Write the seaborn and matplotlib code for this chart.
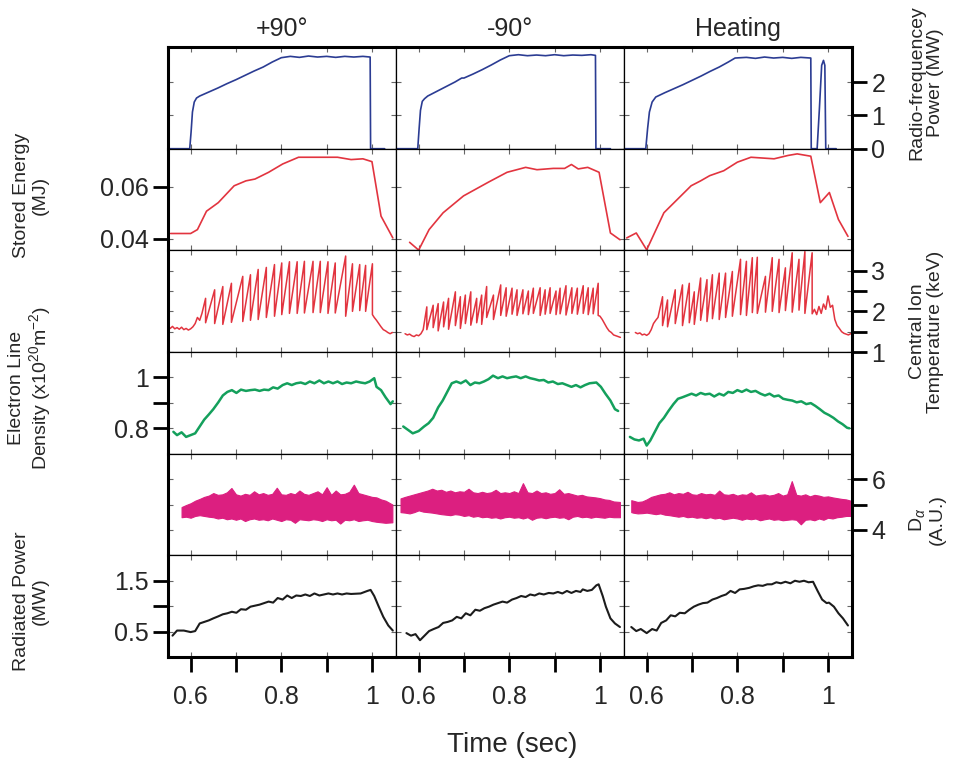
import matplotlib
matplotlib.use('Agg')
import matplotlib.pyplot as plt
import seaborn as sns

sns.set_theme(style='ticks')
plt.rcParams['font.family'] = ['Liberation Sans', 'DejaVu Sans']
plt.rcParams['mathtext.fontset'] = 'custom'
plt.rcParams['mathtext.rm'] = 'Liberation Sans'
plt.rcParams['mathtext.it'] = 'Liberation Sans:italic'
plt.rcParams['mathtext.bf'] = 'Liberation Sans:bold'

cases = ['+90°', '-90°', 'Heating']

# ── row 1 : radio-frequency power (MW) ─────────────────────────────────────
rf_t_p90 = [0.550, 0.598, 0.601, 0.604, 0.608, 0.613, 0.620, 0.640, 0.660, 0.680, 0.700, 0.720,
            0.740, 0.760, 0.780, 0.800, 0.820, 0.840, 0.860, 0.880, 0.900, 0.920, 0.940, 0.960,
            0.980, 0.996, 0.997, 1.028]
rf_p90 = [0.0, 0.0, 0.5, 1.1, 1.40, 1.52, 1.58, 1.70, 1.82, 1.95, 2.07, 2.20,
          2.33, 2.45, 2.60, 2.73, 2.77, 2.74, 2.78, 2.75, 2.77, 2.74, 2.77, 2.75,
          2.77, 2.75, 0.0, 0.0]
rf_t_m90 = [0.552, 0.598, 0.601, 0.604, 0.608, 0.613, 0.620, 0.640, 0.660, 0.680, 0.695, 0.700,
            0.720, 0.740, 0.760, 0.780, 0.800, 0.820, 0.840, 0.860, 0.880, 0.900, 0.920, 0.940,
            0.960, 0.980, 0.990, 0.991, 1.023]
rf_m90 = [0.0, 0.0, 0.6, 1.15, 1.42, 1.50, 1.58, 1.72, 1.86, 2.00, 2.12, 2.12,
          2.24, 2.37, 2.51, 2.66, 2.79, 2.82, 2.79, 2.81, 2.79, 2.82, 2.79, 2.81,
          2.80, 2.82, 2.80, 0.0, 0.0]
rf_t_heat = [0.550, 0.598, 0.602, 0.606, 0.612, 0.620, 0.640, 0.660, 0.680, 0.700, 0.720, 0.740,
             0.760, 0.780, 0.795, 0.820, 0.840, 0.860, 0.880, 0.900, 0.920, 0.940, 0.962, 0.963,
             0.976, 0.981, 0.986, 0.990, 0.993, 0.995, 1.018]
rf_heat = [0.0, 0.0, 0.6, 1.10, 1.40, 1.55, 1.68, 1.80, 1.92, 2.05, 2.18, 2.32,
           2.45, 2.60, 2.72, 2.74, 2.71, 2.75, 2.72, 2.74, 2.71, 2.74, 2.72, 0.0,
           0.0, 1.20, 2.50, 2.65, 2.50, 0.0, 0.0]

# ── row 2 : stored energy (MJ) ─────────────────────────────────────────────
we_t_p90 = [0.556, 0.600, 0.615, 0.635, 0.661, 0.696, 0.722, 0.742, 0.772, 0.803, 0.838,
            0.924, 0.954, 0.980, 1.000, 1.020, 1.046]
we_p90 = [0.0420, 0.0420, 0.0435, 0.0506, 0.0539, 0.0604, 0.0623, 0.0630, 0.0656, 0.0688, 0.0714,
          0.0714, 0.0705, 0.0708, 0.0697, 0.0487, 0.0403]
we_t_m90 = [0.580, 0.600, 0.623, 0.654, 0.699, 0.755, 0.795, 0.836, 0.861, 0.897, 0.922,
            0.937, 0.952, 0.973, 0.998, 1.023, 1.044]
we_m90 = [0.0386, 0.0356, 0.0435, 0.0500, 0.0565, 0.0619, 0.0656, 0.0675, 0.0666, 0.0671, 0.0671,
          0.0686, 0.0669, 0.0675, 0.0656, 0.0422, 0.0396]
we_t_heat = [0.556, 0.577, 0.600, 0.638, 0.668, 0.698, 0.719, 0.739, 0.770, 0.800, 0.830,
             0.881, 0.912, 0.932, 0.962, 0.983, 1.003, 1.023, 1.044]
we_heat = [0.0403, 0.0422, 0.0357, 0.0500, 0.0552, 0.0604, 0.0623, 0.0643, 0.0662, 0.0695, 0.0714,
           0.0708, 0.0721, 0.0727, 0.0718, 0.0539, 0.0578, 0.0474, 0.0409]

# ── row 3 : central ion temperature (keV), sawtooth crashes ────────────────
ti_base_t_p90 = [0.550, 0.555, 0.560, 0.565, 0.570, 0.575, 0.580, 0.585, 0.590, 0.595, 0.600,
                 0.605, 0.610, 0.615, 0.620, 0.625]
ti_base_p90 = [1.62, 1.58, 1.63, 1.57, 1.60, 1.56, 1.61, 1.55, 1.58, 1.54, 1.57,
               1.62, 1.70, 1.85, 1.78, 1.95]
ti_peak_t_p90 = [0.633, 0.653, 0.671, 0.690, 0.715, 0.732, 0.749, 0.767, 0.785, 0.801, 0.818,
                 0.835, 0.851, 0.870, 0.886, 0.903, 0.919, 0.942, 0.957, 0.973, 0.986, 1.001]
ti_peak_p90 = [2.32, 2.53, 2.61, 2.69, 2.86, 2.90, 3.03, 3.08, 3.15, 3.19, 3.22,
               3.22, 3.23, 3.23, 3.23, 3.22, 3.19, 3.36, 3.17, 3.15, 3.13, 3.17]
ti_trough_p90 = [1.72, 1.70, 1.68, 1.73, 1.75, 1.78, 1.80, 1.85, 1.88, 1.92, 1.95,
                 1.95, 1.96, 1.97, 1.97, 1.95, 1.96, 1.88, 2.00, 2.02, 2.00, 1.92]
ti_end_t_p90 = [1.005, 1.010, 1.015, 1.020, 1.025, 1.030, 1.035, 1.040, 1.045]
ti_end_p90 = [1.85, 1.78, 1.70, 1.62, 1.55, 1.52, 1.48, 1.45, 1.48]

ti_base_t_m90 = [0.570, 0.575, 0.580, 0.585, 0.590, 0.595, 0.600, 0.605, 0.610]
ti_base_m90 = [1.45, 1.42, 1.44, 1.40, 1.38, 1.42, 1.40, 1.45, 1.55]
ti_peak_t_m90 = [0.618, 0.632, 0.643, 0.655, 0.666, 0.681, 0.692, 0.703, 0.715, 0.728, 0.739,
                 0.750, 0.765, 0.781, 0.793, 0.806, 0.817, 0.830, 0.842, 0.853, 0.868, 0.879,
                 0.890, 0.903, 0.912, 0.925, 0.938, 0.950, 0.963, 0.974, 0.985, 0.996]
ti_peak_m90 = [2.11, 2.15, 2.19, 2.23, 2.32, 2.48, 2.36, 2.40, 2.48, 2.32, 2.40,
               2.61, 2.40, 2.65, 2.58, 2.57, 2.53, 2.53, 2.50, 2.57, 2.58, 2.53,
               2.58, 2.50, 2.57, 2.63, 2.58, 2.57, 2.63, 2.58, 2.57, 2.69]
ti_trough_m90 = [1.55, 1.60, 1.52, 1.62, 1.56, 1.65, 1.58, 1.70, 1.66, 1.72, 1.68,
                 1.85, 1.80, 1.90, 1.88, 1.93, 1.90, 1.94, 1.92, 1.95, 1.90, 1.93,
                 1.95, 1.92, 1.94, 1.91, 1.95, 1.93, 1.95, 1.92, 1.94, 1.90]
ti_end_t_m90 = [1.000, 1.005, 1.010, 1.015, 1.020, 1.025, 1.030, 1.035, 1.040, 1.045]
ti_end_m90 = [1.88, 1.80, 1.70, 1.60, 1.52, 1.48, 1.42, 1.40, 1.38, 1.36]

ti_base_t_heat = [0.575, 0.580, 0.585, 0.590, 0.595, 0.600, 0.605, 0.610, 0.615, 0.620, 0.625]
ti_base_heat = [1.48, 1.45, 1.47, 1.42, 1.44, 1.41, 1.45, 1.55, 1.70, 1.78, 1.85]
ti_peak_t_heat = [0.635, 0.646, 0.663, 0.679, 0.694, 0.705, 0.719, 0.733, 0.745, 0.760, 0.774,
                  0.789, 0.807, 0.820, 0.833, 0.844, 0.862, 0.877, 0.892, 0.906, 0.921, 0.936,
                  0.949, 0.965]
ti_peak_heat = [2.36, 2.28, 2.53, 2.65, 2.69, 2.48, 2.82, 2.78, 2.90, 2.94, 2.94,
                2.98, 3.28, 3.23, 3.32, 3.33, 2.86, 3.32, 3.28, 3.07, 3.44, 3.28,
                3.47, 3.44]
ti_trough_heat = [1.65, 1.62, 1.70, 1.65, 1.72, 1.68, 1.78, 1.75, 1.82, 1.80, 1.85,
                  1.88, 1.92, 1.90, 1.97, 1.95, 1.98, 2.00, 1.97, 2.02, 1.98, 2.03,
                  1.95, 1.94]
ti_end_t_heat = [0.970, 0.975, 0.980, 0.985, 0.990, 0.995, 1.000, 1.005, 1.010, 1.015, 1.020,
                 1.025, 1.030, 1.035, 1.040, 1.045, 1.050]
ti_end_heat = [2.05, 1.92, 2.12, 1.95, 2.18, 2.05, 2.38, 2.10, 2.15, 1.80, 1.65,
               1.58, 1.50, 1.46, 1.44, 1.42, 1.45]

# ── row 4 : electron line density (1e20 m^-2) ─────────────────────────────
ne_t_p90 = [0.562, 0.570, 0.580, 0.590, 0.600, 0.610, 0.620, 0.630, 0.640, 0.650, 0.661, 0.671,
            0.681, 0.691, 0.701, 0.711, 0.722, 0.732, 0.742, 0.752, 0.762, 0.772, 0.782, 0.792,
            0.803, 0.813, 0.823, 0.833, 0.843, 0.853, 0.863, 0.873, 0.884, 0.894, 0.904, 0.914,
            0.924, 0.934, 0.944, 0.954, 0.965, 0.975, 0.985, 0.995, 1.005, 1.010, 1.020, 1.030,
            1.041, 1.046]
ne_p90 = [0.786, 0.773, 0.784, 0.766, 0.773, 0.780, 0.807, 0.834, 0.854, 0.875, 0.902, 0.929,
          0.943, 0.950, 0.939, 0.952, 0.947, 0.950, 0.952, 0.947, 0.952, 0.950, 0.961, 0.956,
          0.970, 0.977, 0.970, 0.977, 0.980, 0.974, 0.984, 0.977, 0.988, 0.977, 0.984, 0.977,
          0.984, 0.974, 0.980, 0.977, 0.984, 0.980, 0.977, 0.984, 0.997, 0.963, 0.950, 0.922,
          0.895, 0.906]
ne_t_m90 = [0.566, 0.577, 0.587, 0.600, 0.612, 0.622, 0.632, 0.643, 0.653, 0.663, 0.673, 0.683,
            0.693, 0.704, 0.714, 0.724, 0.734, 0.744, 0.754, 0.764, 0.775, 0.785, 0.795, 0.805,
            0.815, 0.825, 0.836, 0.846, 0.856, 0.866, 0.876, 0.886, 0.896, 0.907, 0.917, 0.927,
            0.937, 0.947, 0.957, 0.967, 0.977, 0.992, 1.002, 1.012, 1.023, 1.033, 1.040]
ne_m90 = [0.807, 0.793, 0.780, 0.789, 0.807, 0.820, 0.841, 0.882, 0.909, 0.943, 0.977, 0.984,
          0.977, 0.988, 0.970, 0.980, 0.977, 0.984, 0.993, 1.007, 0.997, 1.004, 0.997, 1.001,
          1.004, 0.997, 1.004, 0.997, 0.993, 0.988, 0.990, 0.980, 0.984, 0.974, 0.977, 0.970,
          0.963, 0.970, 0.961, 0.970, 0.977, 0.980, 0.963, 0.936, 0.909, 0.875, 0.868]
ne_t_heat = [0.563, 0.573, 0.583, 0.593, 0.600, 0.608, 0.618, 0.628, 0.638, 0.648, 0.659, 0.669,
             0.679, 0.689, 0.699, 0.709, 0.719, 0.729, 0.739, 0.749, 0.760, 0.770, 0.780, 0.790,
             0.800, 0.810, 0.820, 0.830, 0.840, 0.851, 0.861, 0.871, 0.881, 0.891, 0.901, 0.911,
             0.921, 0.931, 0.941, 0.952, 0.962, 0.972, 0.982, 0.992, 1.002, 1.012, 1.022, 1.032,
             1.042, 1.047]
ne_heat = [0.766, 0.756, 0.752, 0.759, 0.732, 0.752, 0.786, 0.820, 0.841, 0.868, 0.895, 0.916,
           0.922, 0.929, 0.936, 0.929, 0.939, 0.933, 0.936, 0.925, 0.936, 0.929, 0.943, 0.939,
           0.950, 0.943, 0.952, 0.943, 0.947, 0.936, 0.929, 0.936, 0.925, 0.929, 0.916, 0.912,
           0.909, 0.902, 0.906, 0.895, 0.899, 0.888, 0.875, 0.861, 0.852, 0.841, 0.827, 0.816,
           0.802, 0.800]

# ── row 5 : D-alpha (A.U.), upper / lower envelope of the noisy trace ──────
da_t_p90 = [0.58, 0.59, 0.60, 0.61, 0.62, 0.63, 0.64, 0.65, 0.66, 0.67, 0.68, 0.69,
            0.70, 0.71, 0.72, 0.73, 0.74, 0.75, 0.76, 0.77, 0.78, 0.79, 0.80, 0.81,
            0.82, 0.83, 0.84, 0.85, 0.86, 0.87, 0.88, 0.89, 0.90, 0.91, 0.92, 0.93,
            0.94, 0.95, 0.96, 0.97, 0.98, 0.99, 1.00, 1.01, 1.02, 1.03, 1.045]
da_hi_p90 = [4.90, 4.98, 5.05, 5.15, 5.22, 5.30, 5.35, 5.45, 5.38, 5.40, 5.48, 5.65,
             5.40, 5.35, 5.42, 5.38, 5.52, 5.40, 5.45, 5.38, 5.42, 5.66, 5.40, 5.38,
             5.45, 5.40, 5.55, 5.42, 5.38, 5.45, 5.52, 5.40, 5.68, 5.38, 5.55, 5.40,
             5.42, 5.50, 5.78, 5.45, 5.40, 5.35, 5.30, 5.28, 5.20, 5.15, 5.00]
da_lo_p90 = [4.50, 4.52, 4.48, 4.55, 4.58, 4.55, 4.52, 4.50, 4.45, 4.48, 4.42, 4.45,
             4.40, 4.45, 4.35, 4.42, 4.45, 4.40, 4.42, 4.38, 4.45, 4.40, 4.35, 4.42,
             4.40, 4.28, 4.42, 4.40, 4.38, 4.42, 4.40, 4.35, 4.42, 4.38, 4.40, 4.25,
             4.40, 4.38, 4.42, 4.35, 4.38, 4.40, 4.35, 4.32, 4.30, 4.28, 4.30]
da_t_m90 = [0.56, 0.57, 0.58, 0.59, 0.60, 0.61, 0.62, 0.63, 0.64, 0.65, 0.66, 0.67,
            0.68, 0.69, 0.70, 0.71, 0.72, 0.73, 0.74, 0.75, 0.76, 0.77, 0.78, 0.79,
            0.80, 0.81, 0.82, 0.83, 0.84, 0.85, 0.86, 0.87, 0.88, 0.89, 0.90, 0.91,
            0.92, 0.93, 0.94, 0.95, 0.96, 0.97, 0.98, 0.99, 1.00, 1.01, 1.02, 1.03,
            1.044]
da_hi_m90 = [5.24, 5.30, 5.35, 5.40, 5.45, 5.50, 5.55, 5.62, 5.55, 5.58, 5.50, 5.55,
             5.48, 5.52, 5.50, 5.62, 5.48, 5.45, 5.50, 5.45, 5.48, 5.58, 5.45, 5.48,
             5.45, 5.52, 5.45, 5.84, 5.48, 5.45, 5.55, 5.45, 5.48, 5.42, 5.45, 5.60,
             5.42, 5.45, 5.40, 5.35, 5.38, 5.32, 5.30, 5.28, 5.25, 5.20, 5.18, 5.12,
             5.10]
da_lo_m90 = [4.70, 4.68, 4.65, 4.70, 4.77, 4.72, 4.70, 4.68, 4.65, 4.62, 4.60, 4.58,
             4.62, 4.60, 4.55, 4.58, 4.52, 4.55, 4.50, 4.52, 4.48, 4.50, 4.45, 4.50,
             4.52, 4.48, 4.50, 4.45, 4.50, 4.40, 4.48, 4.50, 4.46, 4.50, 4.52, 4.48,
             4.50, 4.42, 4.52, 4.55, 4.50, 4.52, 4.48, 4.52, 4.50, 4.48, 4.52, 4.50,
             4.50]
da_t_heat = [0.566, 0.57, 0.58, 0.59, 0.60, 0.61, 0.62, 0.63, 0.64, 0.65, 0.66, 0.67,
             0.68, 0.69, 0.70, 0.71, 0.72, 0.73, 0.74, 0.75, 0.76, 0.77, 0.78, 0.79,
             0.80, 0.81, 0.82, 0.83, 0.84, 0.85, 0.86, 0.87, 0.88, 0.89, 0.90, 0.91,
             0.92, 0.93, 0.94, 0.95, 0.96, 0.97, 0.98, 0.99, 1.00, 1.01, 1.02, 1.03,
             1.04, 1.050]
da_hi_heat = [5.17, 5.15, 5.10, 5.12, 5.20, 5.30, 5.35, 5.40, 5.42, 5.48, 5.40, 5.45,
              5.42, 5.50, 5.40, 5.38, 5.45, 5.40, 5.42, 5.38, 5.55, 5.40, 5.38, 5.42,
              5.35, 5.40, 5.38, 5.48, 5.35, 5.38, 5.40, 5.35, 5.38, 5.45, 5.35, 5.40,
              5.92, 5.38, 5.35, 5.40, 5.32, 5.38, 5.35, 5.30, 5.32, 5.28, 5.25, 5.22,
              5.20, 5.15]
da_lo_heat = [4.70, 4.68, 4.65, 4.66, 4.68, 4.65, 4.62, 4.65, 4.60, 4.58, 4.55, 4.52,
              4.55, 4.50, 4.52, 4.48, 4.50, 4.46, 4.50, 4.45, 4.48, 4.42, 4.45, 4.48,
              4.45, 4.40, 4.45, 4.42, 4.45, 4.38, 4.42, 4.45, 4.40, 4.42, 4.38, 4.40,
              4.42, 4.40, 4.22, 4.40, 4.42, 4.38, 4.45, 4.40, 4.48, 4.45, 4.50, 4.52,
              4.55, 4.55]

# ── row 6 : radiated power (MW) ────────────────────────────────────────────
pr_t_p90 = [0.560, 0.570, 0.585, 0.600, 0.610, 0.620, 0.630, 0.640, 0.650, 0.661, 0.671, 0.681,
            0.691, 0.701, 0.711, 0.722, 0.732, 0.742, 0.752, 0.762, 0.772, 0.782, 0.792, 0.803,
            0.813, 0.823, 0.833, 0.843, 0.853, 0.863, 0.873, 0.884, 0.894, 0.904, 0.914, 0.924,
            0.934, 0.944, 0.954, 0.975, 0.990, 0.997, 1.005, 1.015, 1.025, 1.036, 1.046]
pr_p90 = [0.42, 0.52, 0.52, 0.49, 0.51, 0.66, 0.69, 0.72, 0.76, 0.80, 0.84, 0.86,
          0.89, 0.87, 0.94, 0.93, 0.99, 1.01, 1.03, 1.06, 1.09, 1.07, 1.16, 1.13,
          1.21, 1.16, 1.21, 1.20, 1.23, 1.20, 1.25, 1.21, 1.23, 1.25, 1.23, 1.25,
          1.23, 1.25, 1.24, 1.25, 1.30, 1.32, 1.20, 0.99, 0.79, 0.62, 0.52]
pr_t_m90 = [0.573, 0.583, 0.593, 0.603, 0.613, 0.623, 0.633, 0.644, 0.654, 0.664, 0.674, 0.684,
            0.694, 0.704, 0.714, 0.725, 0.735, 0.745, 0.755, 0.765, 0.775, 0.785, 0.795, 0.806,
            0.816, 0.826, 0.836, 0.846, 0.856, 0.866, 0.876, 0.887, 0.897, 0.907, 0.917, 0.927,
            0.937, 0.947, 0.957, 0.962, 0.972, 0.982, 0.992, 0.997, 1.006, 1.013, 1.023, 1.033,
            1.044]
pr_m90 = [0.47, 0.42, 0.45, 0.33, 0.42, 0.51, 0.55, 0.59, 0.67, 0.69, 0.72, 0.79,
          0.76, 0.86, 0.82, 0.93, 0.91, 0.96, 0.99, 1.03, 1.06, 1.09, 1.07, 1.13,
          1.16, 1.20, 1.18, 1.23, 1.21, 1.25, 1.23, 1.26, 1.25, 1.28, 1.25, 1.30,
          1.26, 1.30, 1.28, 1.33, 1.30, 1.32, 1.41, 1.43, 1.20, 0.99, 0.76, 0.66,
          0.59]
pr_t_heat = [0.566, 0.577, 0.587, 0.600, 0.612, 0.622, 0.632, 0.643, 0.653, 0.663, 0.673, 0.684,
             0.694, 0.704, 0.714, 0.724, 0.734, 0.745, 0.755, 0.765, 0.775, 0.785, 0.795, 0.805,
             0.815, 0.826, 0.836, 0.846, 0.856, 0.866, 0.876, 0.886, 0.896, 0.906, 0.917, 0.927,
             0.937, 0.947, 0.957, 0.967, 0.977, 0.987, 0.997, 1.002, 1.013, 1.023, 1.033, 1.044]
pr_heat = [0.59, 0.51, 0.55, 0.47, 0.55, 0.52, 0.67, 0.72, 0.82, 0.80, 0.87, 0.86,
           0.93, 0.99, 1.03, 1.06, 1.07, 1.13, 1.16, 1.20, 1.23, 1.30, 1.26, 1.33,
           1.34, 1.36, 1.39, 1.41, 1.40, 1.43, 1.43, 1.47, 1.45, 1.48, 1.45, 1.50,
           1.48, 1.50, 1.47, 1.48, 1.30, 1.13, 1.06, 1.07, 0.99, 0.86, 0.76, 0.62]

# ── axis settings per row ─────────────────────────────────────────────────
x_ticks = [0.6, 0.7, 0.8, 0.9, 1.0]
x_ticklabels = ['0.6', '', '0.8', '', '1']
row_ylims = [(0, 3.05), (0.0355, 0.0747), (1.0, 3.5), (0.7, 1.1), (3.0, 7.0), (0.0, 2.0)]
row_yticks = [[0, 1, 2], [0.04, 0.06], [1, 1.5, 2, 2.5, 3], [0.8, 0.9, 1.0], [4, 5, 6],
              [0.5, 1.0, 1.5]]
row_yticklabels = [['0', '1', '2'], ['0.04', '0.06'], ['1', '', '2', '', '3'],
                   ['0.8', '', '1'], ['4', '', '6'], ['0.5', '', '1.5']]
row_side = ['right', 'left', 'right', 'left', 'right', 'left']
row_labels = ['Radio-frequencey\nPower (MW)', 'Stored Energy\n(MJ)',
              'Central Ion\nTemperature (keV)',
              'Electron Line\nDensity (x10$^{20}$m$^{-2}$)',
              'D$_{\\alpha}$\n(A.U.)', 'Radiated Power\n(MW)']
row_label_y = [0.892, 0.745, 0.567, 0.494, 0.322, 0.215]

c_blue, c_red, c_green, c_mag, c_black = '#2b3c93', '#e2343f', '#14a05c', '#dc1f80', '#1c1c1c'


def sawtooth(base_t, base_v, pk_t, pk_v, tr_v, end_t, end_v):
    # rise to each peak, then the crash down to the trough at the same time
    t, v = list(base_t), list(base_v)
    for a, b, c in zip(pk_t, pk_v, tr_v):
        t += [a, a]
        v += [b, c]
    return t + list(end_t), v + list(end_v)


rf = [(rf_t_p90, rf_p90), (rf_t_m90, rf_m90), (rf_t_heat, rf_heat)]
we = [(we_t_p90, we_p90), (we_t_m90, we_m90), (we_t_heat, we_heat)]
ti = [sawtooth(ti_base_t_p90, ti_base_p90, ti_peak_t_p90, ti_peak_p90, ti_trough_p90,
               ti_end_t_p90, ti_end_p90),
      sawtooth(ti_base_t_m90, ti_base_m90, ti_peak_t_m90, ti_peak_m90, ti_trough_m90,
               ti_end_t_m90, ti_end_m90),
      sawtooth(ti_base_t_heat, ti_base_heat, ti_peak_t_heat, ti_peak_heat, ti_trough_heat,
               ti_end_t_heat, ti_end_heat)]
ne = [(ne_t_p90, ne_p90), (ne_t_m90, ne_m90), (ne_t_heat, ne_heat)]
da = [(da_t_p90, da_lo_p90, da_hi_p90), (da_t_m90, da_lo_m90, da_hi_m90),
      (da_t_heat, da_lo_heat, da_hi_heat)]
pr = [(pr_t_p90, pr_p90), (pr_t_m90, pr_m90), (pr_t_heat, pr_heat)]

fig, axes = plt.subplots(6, 3, figsize=(9.62, 7.66), dpi=100, sharex=True,
                         gridspec_kw={'hspace': 0, 'wspace': 0})
fig.subplots_adjust(left=0.1746, right=0.8857, top=0.9386, bottom=0.1423)

line_rows = [(rf, c_blue, 1.2), (we, c_red, 1.2), (ti, c_red, 1.1), (ne, c_green, 1.8),
             None, (pr, c_black, 1.5)]

for j in range(3):
    for i in range(6):
        ax = axes[i, j]
        if i == 4:
            t, lo, hi = da[j]
            ax.fill_between(t, lo, hi, color=c_mag, lw=0.8, edgecolor=c_mag)
        else:
            series, col, lw = line_rows[i]
            t, v = series[j]
            sns.lineplot(x=t, y=v, ax=ax, color=col, lw=lw, estimator=None, sort=False)
        ax.set_xlim(0.55, 1.053)
        ax.set_ylim(*row_ylims[i])
        ax.set_xticks(x_ticks)
        ax.set_yticks(row_yticks[i])
        ax.set_xlabel('')
        ax.set_ylabel('')
        ax.tick_params(which='major', direction='in', length=3.5, width=0.8, color='0.4',
                       top=True, bottom=True, left=True, right=True,
                       labelbottom=False, labelleft=False, labeltop=False, labelright=False)
        for s in ax.spines.values():
            s.set_linewidth(0.9)
            s.set_color('black')
        if j == 0:
            ax.spines['left'].set_linewidth(2.2)
        if j == 2:
            ax.spines['right'].set_linewidth(2.2)
        if i == 0:
            ax.spines['top'].set_linewidth(2.2)
        if i == 5:
            ax.spines['bottom'].set_linewidth(2.2)

        # outer labelled ticks
        side = row_side[i]
        if (side == 'left' and j == 0) or (side == 'right' and j == 2):
            sec = ax.secondary_yaxis(side)
            sec.set_yticks(row_yticks[i], labels=row_yticklabels[i])
            sec.tick_params(direction='out', length=11, width=2, color='black',
                            labelsize=18, pad=3)
            sec.spines[side].set_visible(False)
        if i == 5:
            sec = ax.secondary_xaxis('bottom')
            sec.set_xticks(x_ticks, labels=x_ticklabels)
            sec.tick_params(direction='out', length=11, width=2, color='black',
                            labelsize=18, pad=9)
            sec.spines['bottom'].set_visible(False)

    axes[0, j].set_title(cases[j], fontsize=18, pad=8)

for i in range(6):
    x = 0.032 if row_side[i] == 'left' else 0.963
    fig.text(x, row_label_y[i], row_labels[i], rotation=90, ha='center', va='center',
             fontsize=14, linespacing=1.1)

fig.text(0.532, 0.027, 'Time (sec)', ha='center', va='center', fontsize=20)

fig.savefig('out.png', dpi=100)
